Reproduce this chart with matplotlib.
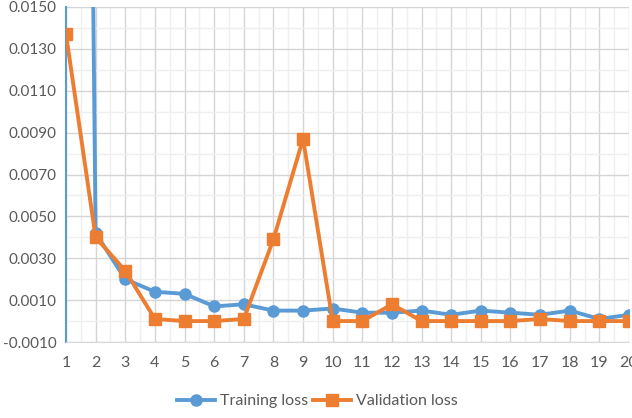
import matplotlib
matplotlib.use("Agg")
import matplotlib.pyplot as plt
from matplotlib.ticker import MultipleLocator

epochs = list(range(1, 21))
training_loss = [0.14, 0.0042, 0.0020, 0.0014, 0.0013, 0.0007, 0.0008, 0.0005, 0.0005, 0.0006,
                 0.0004, 0.0004, 0.0005, 0.0003, 0.0005, 0.0004, 0.0003, 0.0005, 0.0001, 0.0003]
validation_loss = [0.0137, 0.0040, 0.0024, 0.0001, 0.0000, 0.0000, 0.0001, 0.0039, 0.0087, 0.0000,
                   0.0000, 0.0008, 0.0000, 0.0000, 0.0000, 0.0000, 0.0001, 0.0000, 0.0000, 0.0000]
y_ticks = [-0.001, 0.001, 0.003, 0.005, 0.007, 0.009, 0.011, 0.013, 0.015]

plt.rcParams['font.family'] = ['Lato', 'DejaVu Sans']
blue = '#5B9BD5'
orange = '#ED7D31'
txt = '#595959'

fig = plt.figure(figsize=(6.32, 4.18), dpi=100)
ax = fig.add_axes([66/632, 1-342/418, (629-66)/632, (342-7)/418])

ax.plot(epochs, training_loss, color=blue, lw=2.8, marker='o', ms=8, label='Training loss', zorder=3)
ax.plot(epochs, validation_loss, color=orange, lw=2.8, marker='s', ms=8, label='Validation loss', zorder=4)

ax.set_xlim(1, 20)
ax.set_ylim(-0.001, 0.015)
ax.set_yticks(y_ticks)
ax.set_yticklabels([f"{v:.4f}" for v in y_ticks])
ax.yaxis.set_minor_locator(MultipleLocator(0.001))
ax.set_xticks(epochs)
ax.set_xticklabels([str(e) for e in epochs])
ax.xaxis.set_minor_locator(MultipleLocator(0.5))

ax.grid(which='major', color='#D5D5D5', lw=1.0, zorder=0)
ax.grid(which='minor', color='#EFEFEF', lw=1.0, zorder=0)
ax.set_axisbelow(True)

for s in ['top', 'right']:
    ax.spines[s].set_visible(False)
ax.spines['bottom'].set_color('#D9D9D9')
ax.spines['left'].set_color(blue)
ax.spines['left'].set_linewidth(1.5)

ax.tick_params(which='both', length=0, colors=txt)
ax.tick_params(axis='y', pad=7, labelsize=11)
ax.tick_params(axis='x', pad=10, labelsize=11.5)

leg = fig.legend(loc='center', bbox_to_anchor=(317/632, 1-401/418), ncol=2, frameon=False,
                 fontsize=11.5, handlelength=2.4, columnspacing=0.3, handletextpad=0.3)
for t in leg.get_texts():
    t.set_color(txt)

fig.savefig('out.png', dpi=100)
